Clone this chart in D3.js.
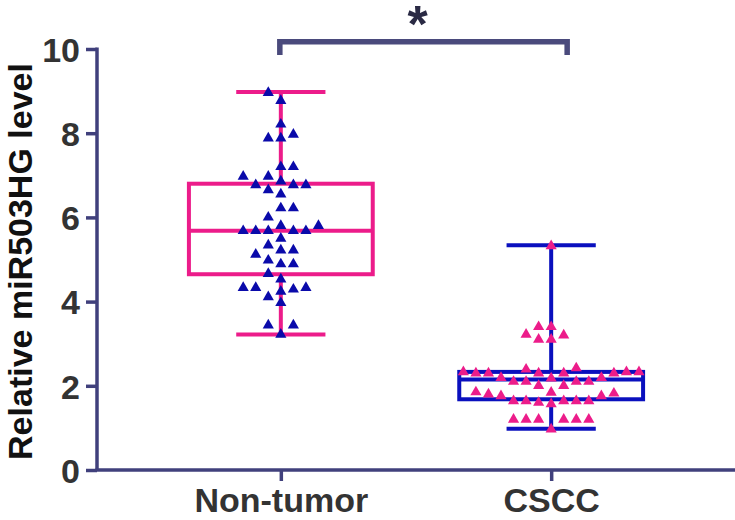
<!DOCTYPE html>
<html>
<head>
<meta charset="utf-8">
<script src="https://cdn.jsdelivr.net/npm/d3@7"></script>
<style>
  html, body { margin: 0; padding: 0; background: #ffffff; }
  svg { display: block; }
</style>
</head>
<body>
<svg id="chart" width="735" height="520"></svg>
<script>
// ---------------- data ----------------
const categories = ["Non-tumor", "CSCC"];
const yTicks = [0, 2, 4, 6, 8, 10];
const yTitle = "Relative miR503HG level";
const sigLabel = "*";

// box summaries: [min, q1, median, q3, max]
const nonTumorBox = [3.22, 4.65, 5.68, 6.80, 8.98];
const csccBox = [0.98, 1.68, 2.15, 2.33, 5.34];

// individual values
const nonTumorValues = [
  8.96, 8.77, 8.21, 7.88, 7.88, 7.97, 7.20, 7.20, 6.97, 6.97,
  6.86, 6.77, 6.77, 6.77, 6.65, 6.55, 6.22, 6.22, 6.00, 5.80,
  5.68, 5.68, 5.68, 5.68, 5.68, 5.80, 5.50, 5.22, 5.34, 5.22,
  5.12, 4.98, 4.89, 4.89, 4.66, 4.53, 4.33, 4.29, 4.24, 4.33,
  4.33, 4.11, 3.97, 3.44, 3.44, 3.22
];
const csccValues = [
  5.32, 3.40, 3.40, 3.20, 3.10, 3.10, 3.22,
  2.42, 2.33, 2.33, 2.30, 2.30, 2.30, 2.30, 2.30, 2.33, 2.39,
  2.19, 2.18, 2.10, 2.10, 2.00, 2.00, 2.10, 2.10, 2.19,
  1.84, 1.80, 1.76, 1.76, 1.82, 1.85,
  1.64, 1.64, 1.60, 1.57, 1.64, 1.64, 1.64,
  1.20, 1.20, 1.20, 1.20, 1.20, 1.20, 0.97
];

// ---------------- styling ----------------
const pink = "#EC1C8A";
const blue = "#0A0AAA";
const boxBlue = "#0A10BE";
const axisColor = "#40407C";
const textColor = "#333333";
const font = "'Liberation Sans', Arial, Helvetica, sans-serif";

const groups = [
  { name: categories[0], box: nonTumorBox, values: nonTumorValues, boxColor: pink, pointColor: blue },
  { name: categories[1], box: csccBox, values: csccValues, boxColor: boxBlue, pointColor: pink }
];

// ---------------- layout ----------------
const svg = d3.select("#chart");
const W = 735, H = 520;
const axisX = 97, axisY = 470, topY = 49;

const x = d3.scalePoint().domain(categories).range([axisX, W]).padding(0.68);
const y = d3.scaleLinear().domain([0, 10]).range([axisY, topY]);
const step = x.step();
const boxHalf = step * 0.34;
const capHalf = step * 0.165;

// ---------------- axes ----------------
const yAxis = d3.axisLeft(y).tickValues(yTicks).tickSize(11).tickPadding(6).tickFormat(d3.format("d"));
const gy = svg.append("g").attr("transform", `translate(${axisX},0)`).call(yAxis);
gy.select(".domain").attr("d", `M0,${topY - 1.5}H0V${axisY}`).attr("stroke", axisColor).attr("stroke-width", 3.5).attr("fill", "none");
gy.selectAll(".tick line").attr("stroke", axisColor).attr("stroke-width", 3.5);
gy.selectAll(".tick text")
  .attr("fill", textColor)
  .style("font-family", font).style("font-weight", "bold").style("font-size", "34px")
  .attr("dy", "0.36em");

const xAxis = d3.axisBottom(x).tickSize(11).tickPadding(6);
const gx = svg.append("g").attr("transform", `translate(0,${axisY})`).call(xAxis);
gx.select(".domain").attr("d", `M${axisX - 1.5},0H${W}`).attr("stroke", axisColor).attr("stroke-width", 3.5).attr("fill", "none");
gx.selectAll(".tick line").attr("stroke", axisColor).attr("stroke-width", 3.5);
gx.selectAll(".tick text")
  .attr("fill", textColor)
  .style("font-family", font).style("font-weight", "bold").style("font-size", "34px")
  .attr("dy", "0.74em");

// y title
svg.append("text")
  .attr("transform", `translate(32,${(axisY + topY) / 2 + 2}) rotate(-90)`)
  .attr("text-anchor", "middle")
  .attr("fill", "#111111")
  .style("font-family", font).style("font-weight", "bold").style("font-size", "34px")
  .text(yTitle);

// ---------------- boxes ----------------
const plot = svg.append("g");
groups.forEach(g => {
  const cx = x(g.name);
  const [mn, q1, md, q3, mx] = g.box;
  const gg = plot.append("g").attr("stroke", g.boxColor).attr("stroke-width", 4).attr("fill", "none");
  gg.append("line").attr("x1", cx).attr("x2", cx).attr("y1", y(q3)).attr("y2", y(mx));
  gg.append("line").attr("x1", cx).attr("x2", cx).attr("y1", y(q1)).attr("y2", y(mn));
  gg.append("line").attr("x1", cx - capHalf).attr("x2", cx + capHalf).attr("y1", y(mx)).attr("y2", y(mx));
  gg.append("line").attr("x1", cx - capHalf).attr("x2", cx + capHalf).attr("y1", y(mn)).attr("y2", y(mn));
  gg.append("rect").attr("x", cx - boxHalf).attr("width", boxHalf * 2)
    .attr("y", y(q3)).attr("height", y(q1) - y(q3));
  gg.append("line").attr("x1", cx - boxHalf).attr("x2", cx + boxHalf).attr("y1", y(md)).attr("y2", y(md));
});

// ---------------- points (beeswarm layout computed from values) ----------------
const halfSlot = step * 0.0232;   // horizontal candidate increment
const minDx = 11.8, minDy = 11;
const tri = d3.symbol().type(d3.symbolTriangle).size(54);

groups.forEach(g => {
  const cx = x(g.name);
  const sorted = g.values.slice().sort((a, b) => a - b);
  const placed = [];
  sorted.forEach(v => {
    const py = y(v);
    for (let i = 0; i < 200; i++) {
      const k = i === 0 ? 0 : (i % 2 === 1 ? -Math.ceil(i / 2) : Math.ceil(i / 2));
      const px = cx + k * halfSlot;
      const hit = placed.some(p => Math.abs(p.x - px) < minDx && Math.abs(p.y - py) < minDy);
      if (!hit) { placed.push({ x: px, y: py, v }); break; }
    }
  });
  plot.append("g").selectAll("path").data(placed).join("path")
    .attr("d", tri)
    .attr("transform", d => `translate(${d.x},${d.y})`)
    .attr("fill", g.pointColor);
});

// ---------------- significance bracket ----------------
const bx1 = x(categories[0]) - 1, bx2 = x(categories[1]) + 16;
const by = y(10.17), byEnd = y(9.86);
svg.append("path")
  .attr("d", `M${bx1},${byEnd}V${by}H${bx2}V${byEnd}`)
  .attr("fill", "none").attr("stroke", "#4A4A7C").attr("stroke-width", 5.5);
svg.append("text")
  .attr("x", (bx1 + bx2) / 2 - 6).attr("y", 42)
  .attr("text-anchor", "middle")
  .attr("fill", "#2A2A44")
  .style("font-family", font).style("font-weight", "bold").style("font-size", "52px")
  .text(sigLabel);
</script>
</body>
</html>
